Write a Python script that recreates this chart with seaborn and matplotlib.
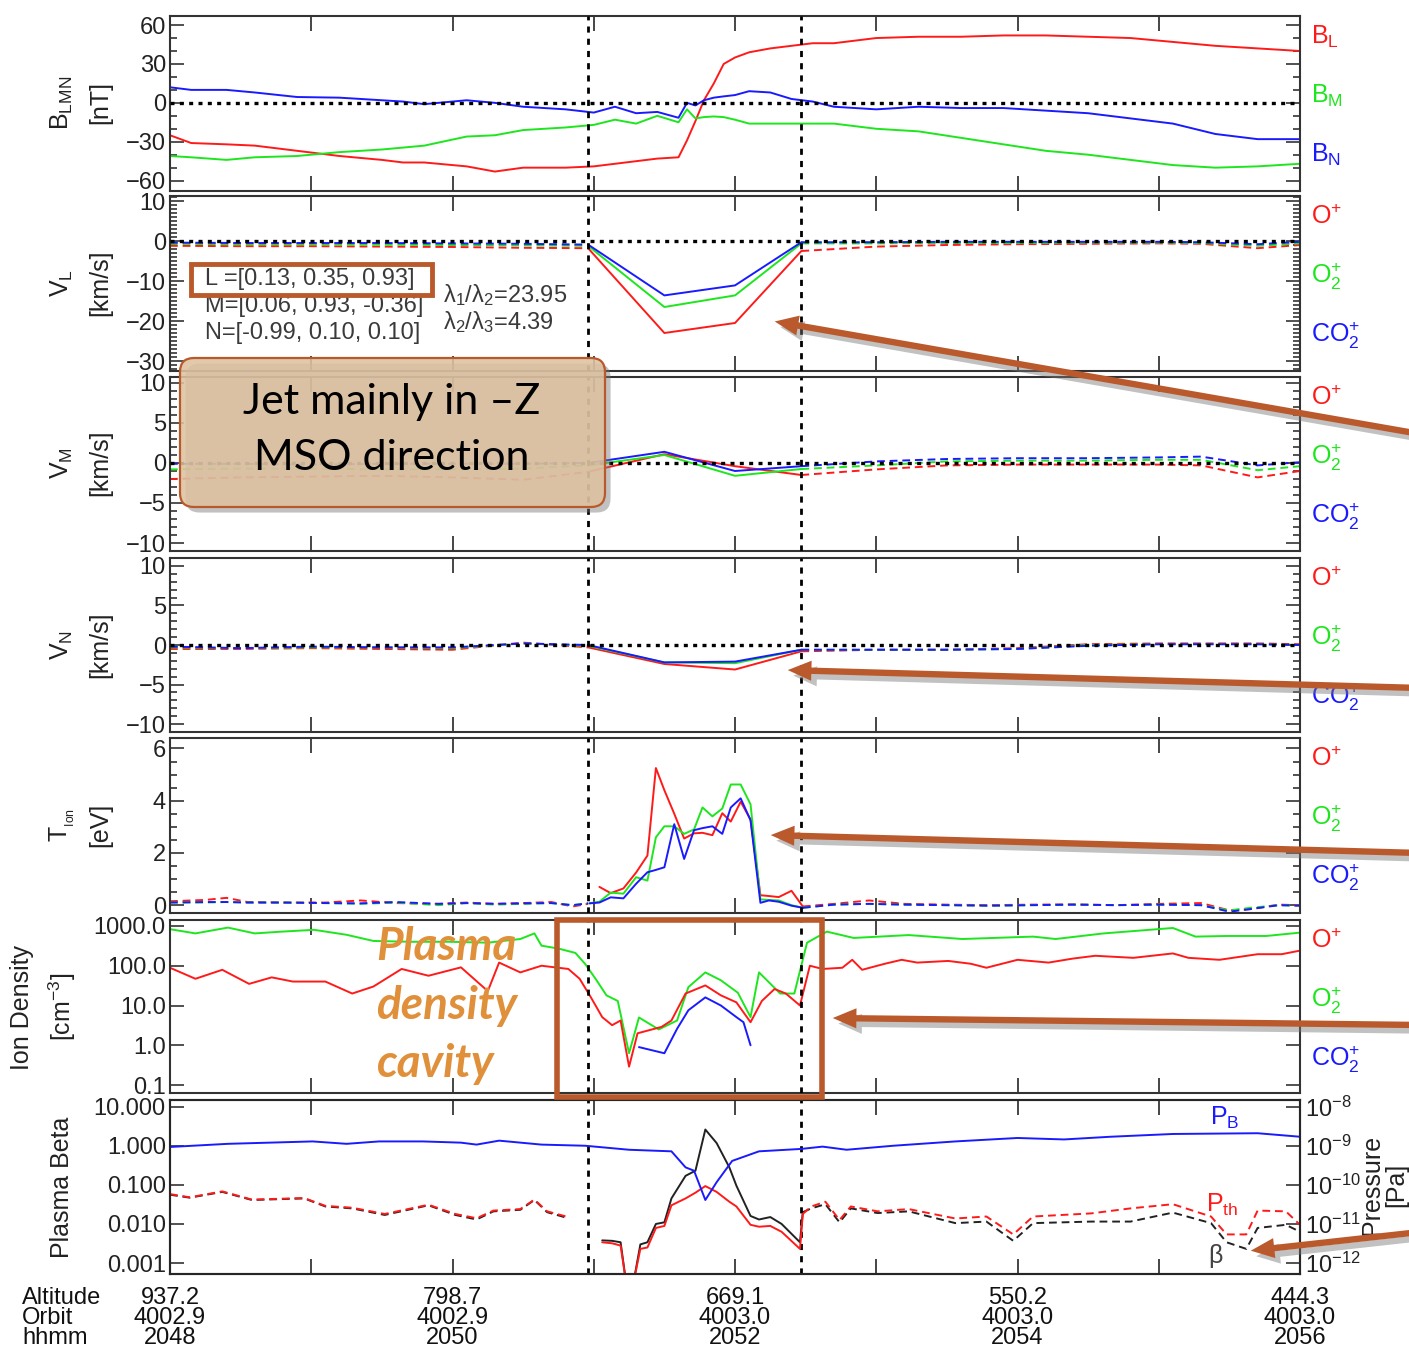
import numpy as np
import matplotlib
matplotlib.use("Agg")
import matplotlib.pyplot as plt
import matplotlib.ticker as mticker
import matplotlib.patheffects as pe
from matplotlib.patches import Rectangle, FancyBboxPatch, FancyArrowPatch
import seaborn as sns

# ---------------- data (time in minutes after 20:48 UT) ----------------
t_b = [0.0, 0.15, 0.4, 0.6, 0.9, 1.2, 1.5, 1.65, 1.8, 2.1, 2.3, 2.5, 2.8, 3.0, 3.15,
       3.3, 3.45, 3.6, 3.66, 3.72, 3.78, 3.85, 3.92, 4.0, 4.1, 4.25, 4.4, 4.55, 4.7,
       5.0, 5.3, 5.6, 5.9, 6.2, 6.5, 6.8, 7.1, 7.4, 7.7, 8.0]
b_l = [-25, -31, -32, -33, -37, -41, -44, -46, -46, -49, -53, -50, -50, -49, -47,
       -45, -43, -42, -29, -14, 2, 15, 30, 35, 39, 42, 44, 46, 46,
       50, 51, 51, 52, 52, 51, 50, 47, 44, 42, 40]
b_m = [-41, -42, -44, -42, -41, -38, -36, -34.5, -33, -26, -25, -21, -19, -17, -13,
       -16, -10, -15, -5, -12, -11, -10.5, -11, -13, -16, -16, -16, -16, -16,
       -20, -22, -27, -32, -37, -40, -44, -48, -50, -49, -47]
b_n = [12, 10, 10, 8, 4.5, 4, 2, 1, -1, 2, 0, -3, -5, -7.5, -3,
       -8, -7, -11.5, 0, -2, 2, 4, 5, 6, 9, 8, 3, 1, -3,
       -5, -3, -4, -4, -6, -8, -12, -16, -24, -28, -28]

t_v = [0, 0.5, 1.0, 1.5, 2.0, 2.5, 2.96, 3.5, 4.0, 4.47, 5.0, 5.5, 6.0, 6.5, 7.0, 7.3, 7.7, 8.0]
vl_o = [-1.2, -1.3, -1.3, -1.4, -1.5, -1.7, -1.8, -23.0, -20.5, -2.5, -1.4, -1.0, -0.8, -0.7, -0.6, -0.7, -1.8, -1.0]
vl_o2 = [-0.7, -0.8, -0.8, -0.9, -1.0, -1.1, -1.2, -16.5, -13.6, -0.6, -0.6, -0.5, -0.5, -0.4, -0.4, -0.5, -1.2, -0.6]
vl_co2 = [-0.4, -0.5, -0.5, -0.5, -0.6, -0.7, -0.9, -13.6, -11.1, -0.3, -0.3, -0.2, -0.2, -0.2, -0.2, -0.3, -0.8, -0.2]
vm_o = [-2.0, -1.8, -1.7, -1.6, -1.8, -2.1, -1.1, 1.1, -0.4, -1.5, -0.8, -0.3, -0.2, -0.2, -0.2, -0.3, -1.8, -1.0]
vm_o2 = [-0.8, -0.7, -0.7, -0.8, -0.8, -0.7, -0.3, 1.0, -1.6, -0.75, -0.3, 0.2, 0.3, 0.3, 0.4, 0.4, -0.9, -0.4]
vm_co2 = [-0.1, -0.1, -0.2, -0.1, -0.1, -0.1, 0.0, 1.4, -1.0, -0.4, 0.2, 0.5, 0.6, 0.6, 0.7, 0.8, -0.3, 0.1]
vn_o = [-0.5, -0.5, -0.4, -0.5, -0.6, 0.3, -0.3, -2.4, -3.1, -0.8, -0.6, -0.6, -0.4, 0.1, 0.2, 0.2, 0.2, 0.1]
vn_o2 = [-0.3, -0.4, -0.3, -0.3, -0.4, 0.2, -0.1, -2.2, -2.3, -0.6, -0.6, -0.6, -0.5, 0.0, 0.1, 0.1, 0.1, 0.0]
vn_co2 = [-0.2, -0.4, -0.2, -0.3, -0.3, 0.2, 0.0, -2.2, -2.1, -0.6, -0.6, -0.6, -0.5, -0.1, 0.1, 0.1, 0.1, 0.0]

t_t_pre = [0, 0.25, 0.4, 0.55, 0.8, 1.1, 1.35, 1.6, 1.9, 2.1, 2.3, 2.5, 2.7, 2.85, 2.96]
tt_o_pre = [0.15, 0.2, 0.28, 0.12, 0.1, 0.1, 0.18, 0.08, 0.05, 0.1, 0.05, 0.08, 0.12, -0.05, 0.05]
tt_o2_pre = [0.1, 0.1, 0.12, 0.1, 0.1, 0.08, 0.05, 0.1, 0.0, 0.08, 0.02, 0.05, 0.08, 0.0, 0.07]
tt_co2_pre = [0.1, 0.12, 0.12, 0.1, 0.1, 0.08, 0.07, 0.12, 0.05, 0.08, 0.05, 0.07, 0.08, 0.0, 0.07]
t_t_in = [2.97, 3.04, 3.12, 3.21, 3.30, 3.38, 3.44, 3.50, 3.57, 3.64, 3.71, 3.77, 3.84, 3.91,
          3.97, 4.04, 4.11, 4.18, 4.24, 4.31, 4.40, 4.48]
tt_o_in = [np.nan, 0.7, 0.46, 0.64, 1.25, 1.9, 5.25, 4.4, 3.5, 2.55, 2.75, 2.77, 2.68, 3.52,
           3.2, 3.96, 3.28, 0.38, 0.35, 0.31, 0.55, -0.05]
tt_o2_in = [0.07, 0.13, 0.48, 0.44, 1.07, 0.94, 2.6, 3.02, 3.02, 2.73, 2.9, 3.74, 3.4, 3.7,
            4.62, 4.62, 3.86, 0.22, 0.2, 0.18, 0.0, -0.1]
tt_co2_in = [0.07, 0.1, 0.3, 0.26, 0.82, 1.26, 1.35, 1.45, 3.1, 1.77, 2.87, 2.95, 3.02, 2.73,
             3.74, 4.09, 3.25, 0.09, 0.18, 0.13, -0.02, -0.1]
t_t_post = [4.48, 4.7, 4.95, 5.2, 5.5, 5.8, 6.1, 6.4, 6.7, 7.0, 7.3, 7.5, 7.65, 7.85, 8.0]
tt_o_post = [-0.05, 0.05, 0.18, 0.05, 0.02, 0.0, 0.02, 0.03, 0.0, 0.05, 0.08, -0.2, -0.15, 0.02, 0.0]
tt_o2_post = [-0.1, 0.02, 0.05, 0.02, 0.0, -0.02, 0.0, 0.02, 0.0, 0.02, 0.0, -0.2, -0.1, 0.0, -0.02]
tt_co2_post = [-0.1, 0.02, 0.05, 0.02, 0.0, -0.02, 0.0, 0.02, 0.0, 0.02, 0.0, -0.25, -0.15, 0.0, -0.02]

t_n_o2 = [0.0, 0.18, 0.41, 0.60, 0.79, 1.02, 1.25, 1.44, 1.71, 1.98, 2.25, 2.48, 2.58, 2.63, 2.75,
          2.87, 2.94, 3.02, 3.09, 3.17, 3.25, 3.32, 3.46, 3.59, 3.67, 3.79, 3.90, 4.02, 4.11, 4.17,
          4.32, 4.42, 4.51, 4.65, 4.84, 5.23, 5.61, 6.11, 6.27, 6.61, 7.10, 7.26, 7.48, 7.76, 8.0]
n_o2 = [830, 650, 910, 650, 720, 800, 600, 420, 400, 400, 380, 470, 650, 320, 270,
        210, 110, 43, 18, 13, 0.63, 5.0, 2.5, 4.2, 29, 68, 43, 21, 5.1, 68,
        20, 20, 380, 720, 500, 590, 470, 540, 470, 650, 890, 540, 560, 560, 680]
t_n_o = [0.0, 0.18, 0.37, 0.56, 0.72, 0.87, 1.10, 1.29, 1.44, 1.64, 1.83, 2.06, 2.25, 2.33, 2.48,
         2.63, 2.82, 2.90, 2.98, 3.06, 3.13, 3.19, 3.25, 3.31, 3.48, 3.55, 3.65, 3.79, 3.90, 4.01,
         4.11, 4.19, 4.28, 4.36, 4.46, 4.53, 4.62, 4.76, 4.83, 4.90, 5.06, 5.18, 5.29, 5.51, 5.67,
         5.78, 6.00, 6.22, 6.39, 6.55, 6.82, 7.10, 7.21, 7.43, 7.70, 7.87, 8.0]
n_o = [89, 47, 79, 35, 51, 40, 40, 20, 30, 83, 56, 91, 23, 120, 68,
       100, 83, 47, 16, 5.1, 3.2, 4.2, 0.29, 2.0, 2.9, 4.2, 20, 32, 18, 12,
       3.8, 13, 26, 20, 10, 100, 83, 89, 141, 79, 112, 141, 120, 132, 112,
       89, 141, 120, 151, 178, 158, 204, 158, 141, 195, 195, 240]
t_n_co2 = [3.32, 3.50, 3.59, 3.67, 3.79, 3.90, 4.01, 4.06, 4.11]
n_co2 = [0.9, 0.63, 2.6, 7.6, 16, 10, 5.1, 3.8, 1.0]

t_beta_pre = [0.0, 0.14, 0.37, 0.58, 0.95, 1.10, 1.29, 1.52, 1.83, 2.02, 2.17, 2.29, 2.48, 2.58, 2.67, 2.82]
beta_pre = [0.056, 0.047, 0.066, 0.041, 0.045, 0.028, 0.025, 0.017, 0.030, 0.017, 0.013, 0.021, 0.023, 0.041, 0.020, 0.014]
pth_pre = [0.058, 0.048, 0.068, 0.042, 0.046, 0.029, 0.026, 0.018, 0.031, 0.018, 0.014, 0.022, 0.024, 0.042, 0.021, 0.015]
t_beta_in = [3.06, 3.13, 3.19, 3.23, 3.28, 3.33, 3.38, 3.44, 3.50, 3.55, 3.65, 3.72, 3.79, 3.87, 3.96,
             4.01, 4.11, 4.17, 4.25, 4.33, 4.46, 4.48]
beta_in = [0.0038, 0.0037, 0.0034, 0.0003, 0.0003, 0.0030, 0.0034, 0.010, 0.011, 0.045, 0.17, 0.23, 2.6, 1.17, 0.28,
           0.095, 0.016, 0.013, 0.015, 0.010, 0.0034, 0.020]
pth_in = [0.0034, 0.0032, 0.0028, 0.0003, 0.0003, 0.0023, 0.0025, 0.0079, 0.0089, 0.030, 0.045, 0.063, 0.093, 0.066, 0.037,
          0.028, 0.0095, 0.0085, 0.0089, 0.0063, 0.0023, 0.018]
t_beta_post = [4.48, 4.54, 4.64, 4.74, 4.82, 5.01, 5.23, 5.56, 5.78, 5.97, 6.11, 6.52, 6.80, 7.10, 7.37,
               7.48, 7.62, 7.70, 7.90, 8.0]
beta_post = [0.020, 0.025, 0.032, 0.011, 0.025, 0.019, 0.021, 0.0105, 0.0115, 0.0037, 0.0105, 0.0115, 0.0115, 0.0195, 0.0105,
             0.0034, 0.0023, 0.0079, 0.0095, 0.0063]
pth_post = [0.018, 0.028, 0.037, 0.0126, 0.028, 0.021, 0.024, 0.0138, 0.0155, 0.0054, 0.0155, 0.0186, 0.025, 0.032, 0.0155,
            0.0054, 0.0054, 0.022, 0.021, 0.0095]
t_pb = [0.0, 0.41, 1.01, 1.25, 1.48, 1.79, 2.06, 2.17, 2.33, 2.63, 2.94, 3.25, 3.55, 3.65, 3.71,
        3.79, 3.87, 3.98, 4.17, 4.47, 4.62, 4.79, 5.12, 5.56, 6.0, 6.33, 6.66, 7.10, 7.70, 8.0]
pb_npa = [0.93, 1.12, 1.29, 1.12, 1.29, 1.29, 1.2, 1.07, 1.35, 1.07, 1.0, 0.79, 0.72, 0.28, 0.23,
          0.041, 0.117, 0.41, 0.72, 0.83, 0.95, 0.79, 1.0, 1.29, 1.58, 1.45, 1.7, 2.0, 2.09, 1.7]

edges = [2.96, 4.47]
hhmm = ['2048', '2050', '2052', '2054', '2056']
altitude = ['937.2', '798.7', '669.1', '550.2', '444.3']
orbit = ['4002.9', '4002.9', '4003.0', '4003.0', '4003.0']

# ---------------- style ----------------
W, H = 1409, 1351
RED, GREEN, BLUE, BLACK = '#ff1a1a', '#1ee61e', '#1a1aff', '#222222'
BROWN = '#ba5a2c'
TICK_FS = 17
sns.set_theme(style="ticks")
plt.rcParams['font.family'] = ['Liberation Sans', 'DejaVu Sans']
plt.rcParams['mathtext.default'] = 'regular'
plt.rcParams['axes.linewidth'] = 1.5

fig = plt.figure(figsize=(W / 100, H / 100), dpi=100)


def fx(x):
    return x / W


def fy(y):
    return 1 - y / H


def panel(top, bottom):
    ax = fig.add_axes([fx(170), fy(bottom), 1130 / W, (bottom - top) / H])
    ax.set_xlim(0, 8)
    ax.xaxis.set_major_locator(mticker.MultipleLocator(1))
    ax.tick_params(axis='x', which='major', direction='in', length=11, width=1.2,
                   top=True, bottom=True, labelbottom=False)
    ax.tick_params(axis='y', which='both', direction='in', left=True, right=True,
                   labelsize=TICK_FS, width=1.1, pad=3, colors='#222222')
    ax.tick_params(axis='y', which='major', length=10)
    ax.tick_params(axis='y', which='minor', length=5)
    for s in ax.spines.values():
        s.set_color('#333333')
    for e in edges:
        ax.axvline(e, color='black', lw=2, ls=(0, (2.2, 2.2)), zorder=5)
    return ax


def seg(ax, t, v, color, dashed=False, lw=1.4):
    t = np.asarray(t, float)
    v = np.asarray(v, float)
    ok = np.isfinite(v)
    ls = (0, (4, 2.5)) if dashed else '-'
    sns.lineplot(x=t[ok], y=v[ok], ax=ax, color=color, linewidth=lw, linestyle=ls,
                 estimator=None, sort=False, legend=False)


def split(ax, t, v, color):
    t = np.asarray(t, float)
    v = np.asarray(v, float)
    pre = t <= edges[0]
    mid = (t >= edges[0]) & (t <= edges[1])
    post = t >= edges[1]
    seg(ax, t[pre], v[pre], color, dashed=True)
    seg(ax, t[mid], v[mid], color)
    seg(ax, t[post], v[post], color, dashed=True)


def zero_line(ax):
    ax.axhline(0, color='black', lw=2.4, ls=(0, (1.2, 1.6)), zorder=4)


def right_labels(top, labels):
    for off, (txt, col) in zip([21, 80, 139], labels):
        fig.text(fx(1311), fy(top + off), txt, color=col, fontsize=18, va='center', ha='left')


ion_labs = [(r'O$^{+}$', RED), (r'O$_2^{+}$', GREEN), (r'CO$_2^{+}$', BLUE)]


def ylab(x, ymid, txt, size=18):
    fig.text(fx(x), fy(ymid), txt, rotation=90, ha='center', va='center', fontsize=size, color='#222222')


# ---------------- panel 1: B ----------------
ax1 = panel(16, 191)
zero_line(ax1)
seg(ax1, t_b, b_l, RED)
seg(ax1, t_b, b_m, GREEN)
seg(ax1, t_b, b_n, BLUE)
ax1.set_ylim(-68, 67)
ax1.set_yticks([-60, -30, 0, 30, 60])
ax1.yaxis.set_minor_locator(mticker.MultipleLocator(10))
right_labels(16, [(r'B$_L$', RED), (r'B$_M$', GREEN), (r'B$_N$', BLUE)])
ylab(62, 103, r'B$_{LMN}$')
ylab(100, 103, '[nT]')

# ---------------- panel 2: V_L ----------------
ax2 = panel(196, 371)
zero_line(ax2)
split(ax2, t_v, vl_o, RED)
split(ax2, t_v, vl_o2, GREEN)
split(ax2, t_v, vl_co2, BLUE)
ax2.set_ylim(-32.5, 11.25)
ax2.set_yticks([-30, -20, -10, 0, 10])
ax2.yaxis.set_minor_locator(mticker.MultipleLocator(1))
right_labels(196, ion_labs)
ylab(62, 283, r'V$_L$')
ylab(100, 283, '[km/s]')

# ---------------- panel 3: V_M ----------------
ax3 = panel(377, 551)
zero_line(ax3)
split(ax3, t_v, vm_o, RED)
split(ax3, t_v, vm_o2, GREEN)
split(ax3, t_v, vm_co2, BLUE)
ax3.set_ylim(-11, 10.75)
ax3.set_yticks([-10, -5, 0, 5, 10])
ax3.yaxis.set_minor_locator(mticker.MultipleLocator(1))
right_labels(377, ion_labs)
ylab(62, 463, r'V$_M$')
ylab(100, 463, '[km/s]')

# ---------------- panel 4: V_N ----------------
ax4 = panel(558, 732)
zero_line(ax4)
split(ax4, t_v, vn_o, RED)
split(ax4, t_v, vn_o2, GREEN)
split(ax4, t_v, vn_co2, BLUE)
ax4.set_ylim(-11, 11)
ax4.set_yticks([-10, -5, 0, 5, 10])
ax4.yaxis.set_minor_locator(mticker.MultipleLocator(1))
right_labels(558, ion_labs)
ylab(62, 645, r'V$_N$')
ylab(100, 645, '[km/s]')

# ---------------- panel 5: T ----------------
ax5 = panel(738, 913)
for tp, vp, ti, vi, tq, vq, col in [
        (t_t_pre, tt_o_pre, t_t_in, tt_o_in, t_t_post, tt_o_post, RED),
        (t_t_pre, tt_o2_pre, t_t_in, tt_o2_in, t_t_post, tt_o2_post, GREEN),
        (t_t_pre, tt_co2_pre, t_t_in, tt_co2_in, t_t_post, tt_co2_post, BLUE)]:
    seg(ax5, tp, vp, col, dashed=True)
    seg(ax5, ti, vi, col)
    seg(ax5, tq, vq, col, dashed=True)
ax5.set_ylim(-0.3, 6.4)
ax5.set_yticks([0, 2, 4, 6])
ax5.yaxis.set_minor_locator(mticker.MultipleLocator(0.5))
right_labels(738, ion_labs)
ylab(62, 825, r'T$_{_{Ion}}$')
ylab(100, 825, '[eV]')

# ---------------- panel 6: density ----------------
ax6 = panel(920, 1093)
ax6.set_yscale('log')
seg(ax6, t_n_o2, n_o2, GREEN)
seg(ax6, t_n_o, n_o, RED)
seg(ax6, t_n_co2, n_co2, BLUE)
ax6.set_ylim(10 ** -1.2, 10 ** 3.15)
ax6.yaxis.set_major_locator(mticker.FixedLocator([0.1, 1, 10, 100, 1000]))
ax6.yaxis.set_major_formatter(mticker.FixedFormatter(['0.1', '1.0', '10.0', '100.0', '1000.0']))
ax6.yaxis.set_minor_locator(mticker.LogLocator(subs=np.arange(2, 10)))
ax6.yaxis.set_minor_formatter(mticker.NullFormatter())
right_labels(920, ion_labs)
ylab(22, 1007, 'Ion Density')
ylab(62, 1007, r'[cm$^{-3}$]')

# ---------------- panel 7: beta / pressure ----------------
ax7 = panel(1100, 1274)
ax7.set_yscale('log')
lo, hi = 10 ** -3.28, 10 ** 1.17
ax7.set_ylim(lo, hi)
ax7.tick_params(axis='y', which='both', right=False)
ax7.yaxis.set_major_locator(mticker.FixedLocator([0.001, 0.01, 0.1, 1, 10]))
ax7.yaxis.set_major_formatter(mticker.FixedFormatter(['0.001', '0.010', '0.100', '1.000', '10.000']))
ax7.yaxis.set_minor_locator(mticker.LogLocator(subs=np.arange(2, 10)))
ax7.yaxis.set_minor_formatter(mticker.NullFormatter())
ax7r = ax7.twinx()
ax7r.set_yscale('log')
ax7r.set_ylim(lo * 1e-9, hi * 1e-9)
ax7r.yaxis.set_major_locator(mticker.FixedLocator([1e-12, 1e-11, 1e-10, 1e-9, 1e-8]))
ax7r.yaxis.set_minor_locator(mticker.LogLocator(subs=np.arange(2, 10)))
ax7r.yaxis.set_minor_formatter(mticker.NullFormatter())
ax7r.tick_params(axis='y', which='both', direction='in', labelsize=TICK_FS, width=1.1, colors='#222222')
ax7r.tick_params(axis='y', which='major', length=10)
ax7r.tick_params(axis='y', which='minor', length=5)
ax7r.grid(False)
seg(ax7, t_beta_pre, beta_pre, BLACK, dashed=True)
seg(ax7, t_beta_in, beta_in, BLACK)
seg(ax7, t_beta_post, beta_post, BLACK, dashed=True)
seg(ax7r, t_beta_pre, np.array(pth_pre) * 1e-9, RED, dashed=True)
seg(ax7r, t_beta_in, np.array(pth_in) * 1e-9, RED)
seg(ax7r, t_beta_post, np.array(pth_post) * 1e-9, RED, dashed=True)
seg(ax7r, t_pb, np.array(pb_npa) * 1e-9, BLUE)
ax7r.set_ylabel('')
ax7.set_ylabel('')
fig.text(fx(1210), fy(1118), r'P$_B$', color=BLUE, fontsize=18, va='center')
fig.text(fx(1206), fy(1205), r'P$_{th}$', color=RED, fontsize=18, va='center')
fig.text(fx(1208), fy(1256), 'β', color='#444444', fontsize=18, va='center')
ylab(62, 1187, 'Plasma Beta')
ylab(1372, 1185, 'Pressure')
ylab(1396, 1185, '[Pa]')

for ax in [ax1, ax2, ax3, ax4, ax5, ax6]:
    ax.set_xlabel('')
    ax.set_ylabel('')

# ---------------- bottom annotation rows (one block per column) ----------------
fig.text(fx(22), fy(1318), 'Altitude\nOrbit\nhhmm', fontsize=17, va='center', ha='left',
         linespacing=0.86, color='#111111')
for i, (a, o, h) in enumerate(zip(altitude, orbit, hhmm)):
    fig.text(fx(170 + i * 282.5), fy(1318), f'{a}\n{o}\n{h}', fontsize=17, va='center',
             ha='center', multialignment='center', linespacing=0.86, color='#111111')

# ---------------- MVA text box ----------------
txt_col = '#3a3a3a'
fig.text(fx(205), fy(279), 'L =[0.13, 0.35, 0.93]', fontsize=17, color=txt_col, va='center')
fig.text(fx(205), fy(306), 'M=[0.06, 0.93, -0.36]', fontsize=17, color=txt_col, va='center')
fig.text(fx(205), fy(333), 'N=[-0.99, 0.10, 0.10]', fontsize=17, color=txt_col, va='center')
fig.text(fx(443), fy(295), 'λ$_1$/λ$_2$=23.95', fontsize=17, color=txt_col, va='center')
fig.text(fx(443), fy(322), 'λ$_2$/λ$_3$=4.39', fontsize=17, color=txt_col, va='center')
fig.add_artist(Rectangle((fx(191), fy(295)), (432 - 191) / W, (295 - 264) / H,
                         transform=fig.transFigure, fill=False, ec=BROWN, lw=3.5, zorder=6))

# ---------------- callout box ----------------
shadow = [pe.withSimplePatchShadow(offset=(4, -4), shadow_rgbFace='#777777', alpha=0.45)]
box = FancyBboxPatch((180 / 100, (H - 507) / 100), (605 - 180) / 100, (507 - 358) / 100,
                     boxstyle='round,pad=0,rounding_size=0.14', transform=fig.dpi_scale_trans,
                     fc=(0.87, 0.76, 0.63, 0.88), ec=BROWN, lw=1.6, zorder=6, path_effects=shadow)
fig.add_artist(box)
fig.text(fx(392), fy(402), 'Jet mainly in –Z', fontsize=31, ha='center', va='center',
         family=['Lato', 'DejaVu Sans'], color='black', zorder=7)
fig.text(fx(392), fy(458), 'MSO direction', fontsize=31, ha='center', va='center',
         family=['Lato', 'DejaVu Sans'], color='black', zorder=7)

# ---------------- density cavity ----------------
fig.add_artist(Rectangle((fx(557), fy(1097)), (822 - 557) / W, (1097 - 920) / H,
                         transform=fig.transFigure, fill=False, ec=BROWN, lw=4, zorder=6))
for yy, word in [(947, 'Plasma'), (1006, 'density'), (1064, 'cavity')]:
    fig.text(fx(376), fy(yy), word, fontsize=33, ha='left', va='center', color='#e0903a',
             fontweight='bold', fontstyle='italic', family=['Lato', 'DejaVu Sans'], zorder=7)

# ---------------- arrows ----------------
for (x0, y0), (x1, y1) in [((1420, 434), (772, 321)), ((1420, 688), (785, 670)),
                           ((1420, 853), (768, 835)), ((1420, 1025), (830, 1018)),
                           ((1420, 1232), (1248, 1251))]:
    arr = FancyArrowPatch((fx(x0), fy(y0)), (fx(x1), fy(y1)), transform=fig.transFigure,
                          arrowstyle='simple,head_length=1.0,head_width=0.85,tail_width=0.27',
                          mutation_scale=17, fc=BROWN, ec='none', lw=0, zorder=8,
                          path_effects=shadow)
    fig.add_artist(arr)

fig.savefig('out.png', dpi=100)
